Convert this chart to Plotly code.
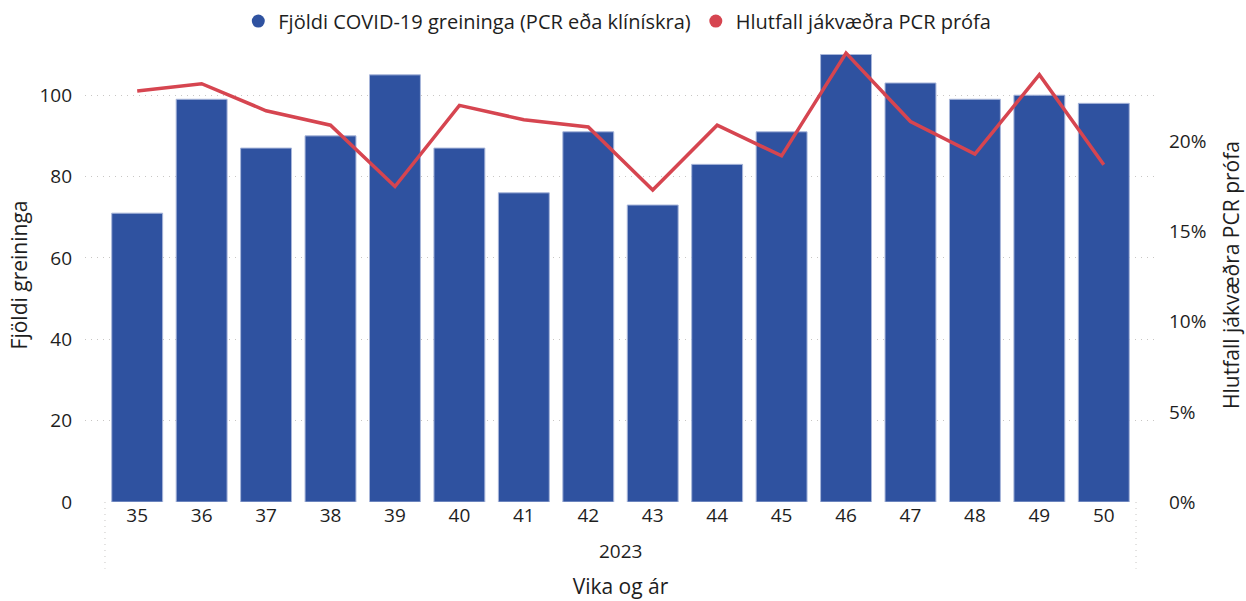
import plotly.graph_objects as go

weeks = ["35", "36", "37", "38", "39", "40", "41", "42", "43", "44", "45", "46", "47", "48", "49", "50"]
year_label = "2023"
cases = [71, 99, 87, 90, 105, 87, 76, 91, 73, 83, 91, 110, 103, 99, 100, 98]
positivity = [0.228, 0.232, 0.217, 0.209, 0.175, 0.220, 0.212, 0.208, 0.173, 0.209, 0.192,
              0.249, 0.211, 0.193, 0.237, 0.187]
left_ticks = [0, 20, 40, 60, 80, 100]
right_ticks = [0, 0.05, 0.10, 0.15, 0.20]
right_tick_text = ["0%", "5%", "10%", "15%", "20%"]

bar_name = "Fjöldi COVID-19 greininga (PCR eða klínískra)"
line_name = "Hlutfall jákvæðra PCR prófa"
BAR_COLOR = "#2F52A0"
LINE_COLOR = "#D64550"
FONT = "Open Sans"
TXT = "#1E1E1E"

fig = go.Figure()
fig.add_trace(go.Bar(x=weeks, y=cases, name=bar_name, showlegend=False,
                     marker=dict(color=BAR_COLOR, line=dict(color="#A8B6DA", width=1))))
fig.add_trace(go.Scatter(x=weeks, y=positivity, name=line_name, mode="lines", yaxis="y2",
                         showlegend=False, line=dict(color=LINE_COLOR, width=3.5)))
# legend entries with circle symbols
fig.add_trace(go.Scatter(x=[None], y=[None], mode="markers", name=bar_name,
                         marker=dict(symbol="circle", size=13, color=BAR_COLOR)))
fig.add_trace(go.Scatter(x=[None], y=[None], mode="markers", name=line_name,
                         marker=dict(symbol="circle", size=13, color=LINE_COLOR)))

fig.add_annotation(text=year_label, x=0.5, xref="paper", y=-0.109, yref="paper",
                   showarrow=False, font=dict(family=FONT, size=19, color=TXT),
                   xanchor="center", yanchor="middle")
for xv in [-0.5, 15.5]:
    fig.add_shape(type="line", xref="x", yref="paper", x0=xv, x1=xv, y0=0, y1=-0.147,
                  line=dict(color="#C8C6C4", width=1, dash="1px,5px"))

fig.update_layout(
    width=1246, height=601,
    margin=dict(l=85, r=90, t=48, b=99, autoexpand=False),
    plot_bgcolor="white", paper_bgcolor="white",
    bargap=0.21,
    font=dict(family=FONT, size=19, color=TXT),
    legend=dict(orientation="h", x=0.497, xanchor="center", y=0.965, yanchor="middle",
                yref="container", font=dict(family=FONT, size=20, color=TXT),
                itemwidth=30, tracegroupgap=0),
    xaxis=dict(type="category", range=[-0.81, 15.81], showgrid=False, showline=False,
               ticks="", automargin=False, tickfont=dict(family=FONT, size=19, color=TXT),
               title=dict(text="Vika og ár", standoff=52,
                          font=dict(family=FONT, size=21, color=TXT))),
    yaxis=dict(range=[0, 111.6], tickvals=left_ticks, showgrid=True, gridcolor="#C8C6C4",
               griddash="1px,5px", gridwidth=1, zeroline=False, showline=False, ticks="",
               automargin=False,
               ticklabelstandoff=12, tickfont=dict(family=FONT, size=19, color=TXT),
               title=dict(text="Fjöldi greininga", standoff=6,
                          font=dict(family=FONT, size=21, color=TXT))),
    yaxis2=dict(range=[0, 0.2518], overlaying="y", side="right", tickvals=right_ticks,
                ticktext=right_tick_text, showgrid=False, zeroline=False, showline=False,
                ticks="", automargin=False,
                ticklabelstandoff=12, tickfont=dict(family=FONT, size=19, color=TXT),
                title=dict(text=line_name, standoff=18,
                           font=dict(family=FONT, size=21, color=TXT))),
)
fig.write_html("out.html", config={"displayModeBar": False},
               post_script="document.body.style.margin='0';")
